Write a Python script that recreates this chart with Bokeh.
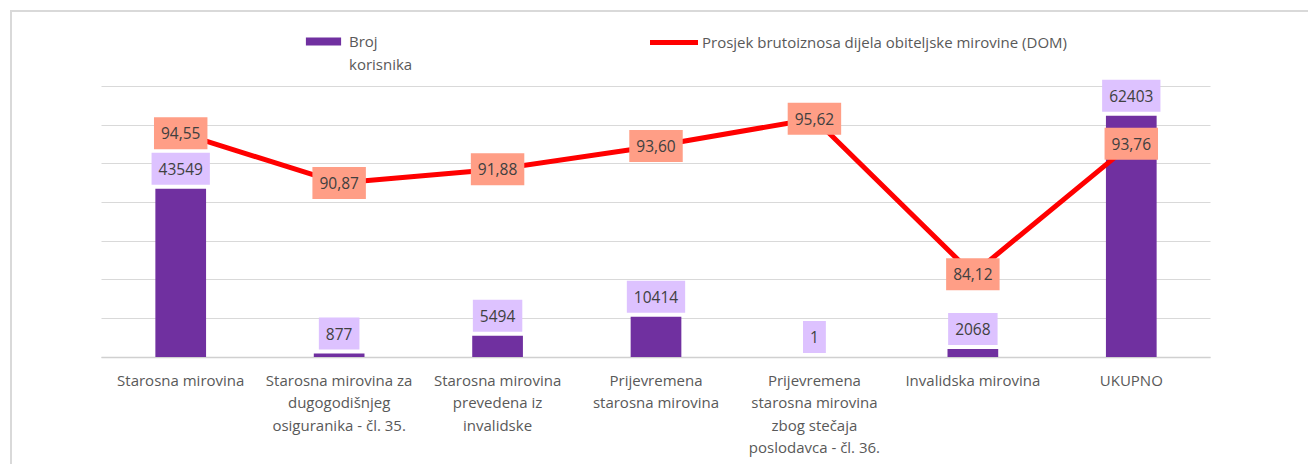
from bokeh.plotting import figure
from bokeh.models import ColumnDataSource, Range1d, FactorRange, FixedTicker, Legend, LegendItem, Grid
from bokeh.embed import file_html
from bokeh.resources import INLINE
from bokeh.core.properties import value

# ---- data ----
categories = ["Starosna mirovina",
              "Starosna mirovina za dugogodišnjeg osiguranika - čl. 35.",
              "Starosna mirovina prevedena iz invalidske",
              "Prijevremena starosna mirovina",
              "Prijevremena starosna mirovina zbog stečaja poslodavca - čl. 36.",
              "Invalidska mirovina",
              "UKUPNO"]
category_labels = ["Starosna mirovina",
                   "Starosna mirovina za\ndugogodišnjeg\nosiguranika - čl. 35.",
                   "Starosna mirovina\nprevedena iz\ninvalidske",
                   "Prijevremena\nstarosna mirovina",
                   "Prijevremena\nstarosna mirovina\nzbog stečaja\nposlodavca - čl. 36.",
                   "Invalidska mirovina",
                   "UKUPNO"]
broj_korisnika = [43549, 877, 5494, 10414, 1, 2068, 62403]
prosjek = [94.55, 90.87, 91.88, 93.60, 95.62, 84.12, 93.76]
series_bar_lines = ["Broj", "korisnika"]
series_line = "Prosjek brutoiznosa dijela obiteljske mirovine (DOM)"
bar_axis_ticks = [0, 10000, 20000, 30000, 40000, 50000, 60000, 70000]
bar_axis_max = 70000
line_axis_min, line_axis_max = 78, 98

FONT = "Open Sans"
PURPLE = "#7030A0"
RED = "#FF0000"

# ---- layout constants (pixels) ----
W, H = 1296, 452            # figure box (placed at 12,12)
PLOT_LEFT, PLOT_RIGHT = 89, 1198   # category area inside frame
BASE_Y, TOP_Y = 344.5, 74.0        # baseline / top gridline from figure top
ppu = (BASE_Y - TOP_Y) / bar_axis_max
lpu = (BASE_Y - TOP_Y) / (line_axis_max - line_axis_min)
cat_px = (PLOT_RIGHT - PLOT_LEFT) / len(categories)
frame_right = PLOT_RIGHT + PLOT_LEFT

src = ColumnDataSource(dict(
    cat=categories,
    cat_lbl=category_labels,
    zero=[0] * len(categories),
    bars=broj_korisnika,
    bar_lbl=[str(v) for v in broj_korisnika],
    line=prosjek,
    line_lbl=[f"{v:.2f}".replace(".", ",") for v in prosjek],
))

p = figure(x_range=FactorRange(factors=categories, range_padding=PLOT_LEFT / cat_px,
                               range_padding_units="absolute"),
           y_range=Range1d(-(H - BASE_Y) / ppu, BASE_Y / ppu),
           x_axis_location=None, y_axis_location=None,
           width=W, height=H, output_backend="svg", toolbar_location=None,
           min_border_left=0, min_border_right=W - frame_right, min_border_top=0, min_border_bottom=0)
p.margin = (12, 0, 0, 12)
p.styles = {"outline": "2px solid #d9d9d9"}
p.extra_y_ranges = {"avg": Range1d(line_axis_min - (H - BASE_Y) / lpu, line_axis_min + BASE_Y / lpu)}
p.outline_line_color = None
p.background_fill_color = "white"
p.border_fill_color = "white"

for r in list(p.center):
    if isinstance(r, Grid):
        r.visible = False

grid = Grid(dimension=1, ticker=FixedTicker(ticks=bar_axis_ticks), grid_line_color="#d9d9d9",
            grid_line_width=1, cross_bounds=(0, len(categories)))
p.add_layout(grid)
base = Grid(dimension=1, ticker=FixedTicker(ticks=[0]), grid_line_color="#d0d0d0",
            grid_line_width=1.6, cross_bounds=(0, len(categories)))
p.add_layout(base)

# category labels under the baseline
p.text(x="cat", y="zero", text="cat_lbl", source=src, y_offset=13,
       text_font=value(FONT), text_font_size="15px", text_color="#595959",
       text_align="center", text_baseline="top", text_line_height=1.12)

bars = p.vbar(x="cat", top="bars", width=0.32, source=src, fill_color=PURPLE, line_color=None)
line = p.line(x="cat", y="line", source=src, y_range_name="avg", line_color=RED, line_width=5,
              line_cap="round", line_join="round")

p.text(x="cat", y="bars", text="bar_lbl", source=src, y_offset=-20,
       text_font=value(FONT), text_font_size="15.5px", text_color="#404040",
       text_align="center", text_baseline="middle",
       background_fill_color="#DDC2FF", padding=(7, 10))
p.text(x="cat", y="line", text="line_lbl", source=src, y_range_name="avg",
       text_font=value(FONT), text_font_size="15.5px", text_color="#404040",
       text_align="center", text_baseline="middle",
       background_fill_color="#FF9E86", padding=(7, 10))

leg1 = Legend(items=[LegendItem(label=series_bar_lines[0], renderers=[bars]),
                     LegendItem(label=series_bar_lines[1], renderers=[])],
              location=(289, 390), orientation="vertical", spacing=3,
              glyph_width=44, glyph_height=10, label_standoff=4,
              padding=0, margin=0, border_line_color=None, background_fill_alpha=0,
              label_text_font=FONT, label_text_font_size="15px", label_text_color="#595959")
leg2 = Legend(items=[LegendItem(label=series_line, renderers=[line])],
              location=(638, 412), orientation="horizontal",
              glyph_width=48, glyph_height=10, label_standoff=4,
              padding=0, margin=0, border_line_color=None, background_fill_alpha=0,
              label_text_font=FONT, label_text_font_size="15px", label_text_color="#595959")
p.add_layout(leg1, "center")
p.add_layout(leg2, "center")

open("out.html", "w").write(file_html(p, INLINE))
